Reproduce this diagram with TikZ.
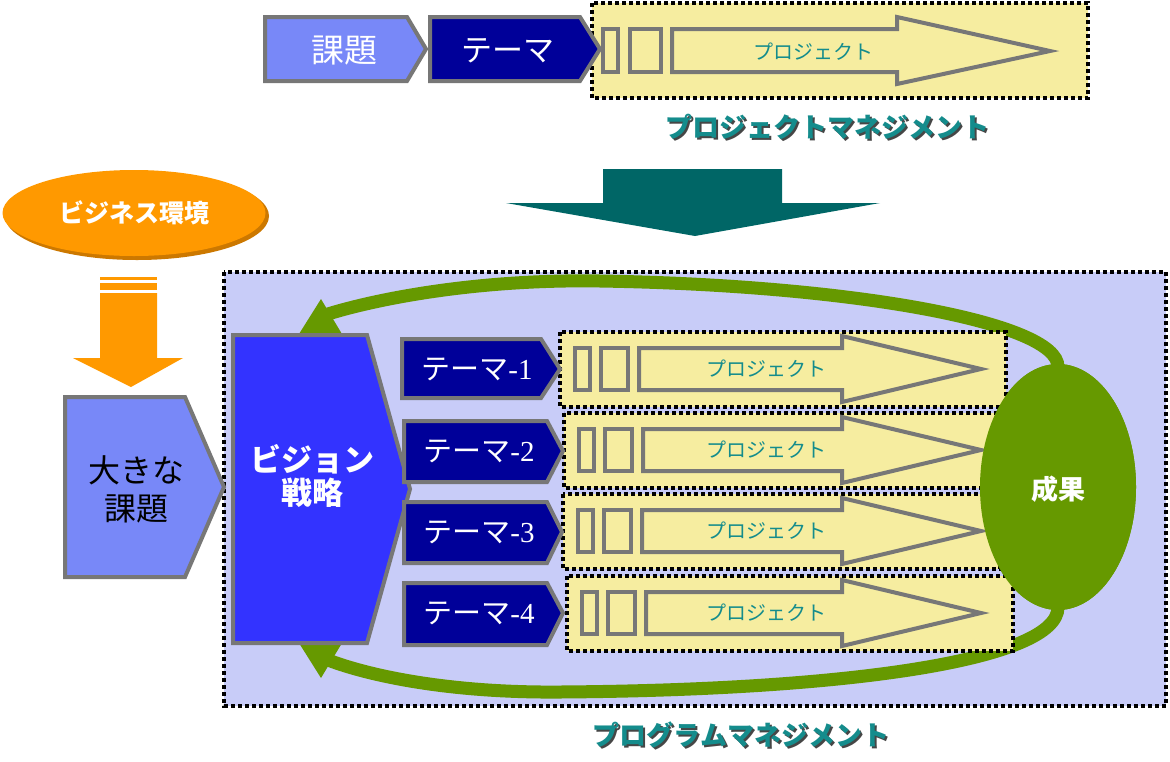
\documentclass[tikz,border=0pt]{standalone}
\usepackage{fontspec}
\setmainfont{Noto Sans CJK JP}
\newfontfamily\serifnum{Liberation Serif}
\usetikzlibrary{shapes.geometric}
\definecolor{kblue}{RGB}{120,136,248}
\definecolor{navy}{RGB}{0,0,153}
\definecolor{vblue}{RGB}{51,51,255}
\definecolor{pbg}{RGB}{200,204,248}
\definecolor{pyel}{RGB}{246,237,160}
\definecolor{bgray}{RGB}{119,119,119}
\definecolor{tealtxt}{RGB}{20,140,140}
\definecolor{shadowtxt}{RGB}{70,70,70}
\definecolor{lgreen}{RGB}{102,153,0}
\definecolor{orng}{RGB}{255,153,0}
\definecolor{dorng}{RGB}{204,120,0}
\definecolor{dteal}{RGB}{0,102,102}
\pgfdeclarelayer{bg}\pgfdeclarelayer{mid}\pgfsetlayers{bg,mid,main}
\newcommand\fs[1]{\fontsize{#1}{#1}\selectfont}
\tikzset{
  edge/.style={draw=bgray, line width=4pt, line join=miter},
  dotbox/.style={draw=black, line width=4pt, dash pattern=on 4pt off 3pt},
  wtxt/.style={text=white, inner sep=0pt, align=center},
  projtxt/.style={text=tealtxt, inner sep=0pt, font=\fs{20}},
  lbl/.style={text=tealtxt, inner sep=0pt, font=\bfseries\fs{27}},
  lblsh/.style={text=shadowtxt, inner sep=0pt, font=\bfseries\fs{27}},
  loop/.style={draw=lgreen, line width=13pt},
  themetxt/.style={wtxt, font=\fs{29}}
}
\newcommand\projrow[4]{%
  \draw[dotbox, fill=pyel] (#2,{#4-37}) rectangle (#3,{#4+38});
  \draw[edge] ({#2+15},{#4-21}) rectangle ({#2+30},{#4+21});
  \draw[edge] ({#2+41},{#4-21}) rectangle ({#2+68},{#4+21});
  \draw[edge] ({#2+79},{#4-21}) -- (842,{#4-21}) -- (842,{#4-33}) -- (981,#4)
     -- (842,{#4+33}) -- (842,{#4+21}) -- ({#2+79},{#4+21}) -- cycle;
  \node[projtxt] (#1) at (766,#4) {プロジェクト};
}
\begin{document}
\begin{tikzpicture}[x=1pt,y=-1pt]
\useasboundingbox (0,0) rectangle (1170,761);

% ---------- top row ----------
\draw[edge, fill=kblue] (265,17) -- (407,17) -- (426,49) -- (407,81) -- (265,81) -- cycle;
\node[wtxt, font=\fs{33}] (kadai) at (344,51) {課題};
\draw[dotbox, fill=pyel] (592,3) rectangle (1088,98);
\draw[edge, fill=navy] (430,17) -- (580,17) -- (600,49) -- (580,81) -- (430,81) -- cycle;
\node[wtxt, font=\fs{31}] (theme) at (508,51) {テーマ};
\draw[edge] (603,29) rectangle (618,72);
\draw[edge] (630,29) rectangle (661,72);
\draw[edge] (672,29) -- (897,29) -- (897,17) -- (1050,51) -- (897,84) -- (897,72) -- (672,72) -- cycle;
\node[projtxt] (ptop) at (813,52) {プロジェクト};
\node[lblsh] (pmsh) at (829,129) {プロジェクトマネジメント};
\node[lbl] (pm) at (827,127) {プロジェクトマネジメント};

% ---------- big teal arrow ----------
\fill[dteal] (603,169) -- (782,169) -- (782,203) -- (880,203) -- (695,236)
  -- (506,203) -- (603,203) -- cycle;

% ---------- business environment ----------
\fill[dorng] (137,216) ellipse [x radius=132, y radius=44];
\node[ellipse, fill=orng, minimum width=263pt, minimum height=86pt, inner sep=0pt] (env) at (134,213) {};
\node[wtxt, font=\bfseries\fs{25}] (envt) at (134,213) {ビジネス環境};

\fill[orng] (100,277) rectangle (157,280);
\fill[orng] (100,283) rectangle (157,290);
\fill[orng] (100,293) -- (157,293) -- (157,358) -- (183,358) -- (131,387)
  -- (73,358) -- (100,358) -- cycle;

% ---------- big issue ----------
\draw[edge, fill=kblue] (65,397) -- (185,397) -- (224,487) -- (185,577) -- (65,577) -- cycle;
\node[inner sep=0pt, align=center, font=\fs{32}, text=black] (big) at (136,489) {大きな\\[6pt]課題};

% ---------- program management ----------
\begin{pgfonlayer}{bg}
\draw[dotbox, fill=pbg] (224,272) rectangle (1166,706);
\end{pgfonlayer}

\node[ellipse, fill=lgreen, minimum width=156pt, minimum height=246pt, inner sep=0pt] (res) at (1058,487) {};
\node[wtxt, font=\bfseries\fs{27}] (rest) at (1058,489) {成果};

\coordinate (topend) at (328,314);
\coordinate (botend) at (328,660);
\begin{pgfonlayer}{mid}
\draw[loop] ([yshift=-3pt]res.north) .. controls (1058,322) and (850,285) .. (600,281)
   .. controls (480,279) and (380,298) .. (topend);
\draw[loop] ([yshift=3pt]res.south) .. controls (1058,660) and (850,690) .. (560,692)
   .. controls (450,693) and (370,676) .. (botend);
\fill[lgreen] (321,299) -- (342,334) -- (299,334) -- cycle;
\fill[lgreen] (321,678) -- (342,643) -- (299,643) -- cycle;
\end{pgfonlayer}

\draw[edge, fill=vblue] (233,335) -- (367,335) -- (410,489) -- (367,643) -- (233,643) -- cycle;
\node[wtxt, font=\bfseries\fs{31}] (vis) at (312,476) {ビジョン\\[2pt]戦略};

\projrow{p1}{560}{1006}{369}
\projrow{p2}{564}{1000}{450}
\projrow{p3}{563}{1000}{531}
\projrow{p4}{567}{1013}{613}

\draw[edge, fill=navy] (402,339) -- (541,339) -- (560,369) -- (541,398) -- (402,398) -- cycle;
\draw[edge, fill=navy] (404,421) -- (547,421) -- (563,451) -- (547,482) -- (404,482) -- cycle;
\draw[edge, fill=navy] (404,502) -- (547,502) -- (562,532) -- (547,563) -- (404,563) -- cycle;
\draw[edge, fill=navy] (404,583) -- (547,583) -- (563,613) -- (547,645) -- (404,645) -- cycle;
\node[themetxt] (t1) at (477,369) {テーマ{\serifnum -1}};
\node[themetxt] (t2) at (479,451) {テーマ{\serifnum -2}};
\node[themetxt] (t3) at (479,532) {テーマ{\serifnum -3}};
\node[themetxt] (t4) at (479,613) {テーマ{\serifnum -4}};

% redraw result ellipse above project boxes
\node[ellipse, fill=lgreen, minimum width=156pt, minimum height=246pt, inner sep=0pt] (res2) at (1058,487) {};
\node[wtxt, font=\bfseries\fs{27}] (rest2) at (1058,489) {成果};

\node[lblsh] (pgmsh) at (743,737) {プログラムマネジメント};
\node[lbl] (pgm) at (741,735) {プログラムマネジメント};
\end{tikzpicture}
\end{document}
